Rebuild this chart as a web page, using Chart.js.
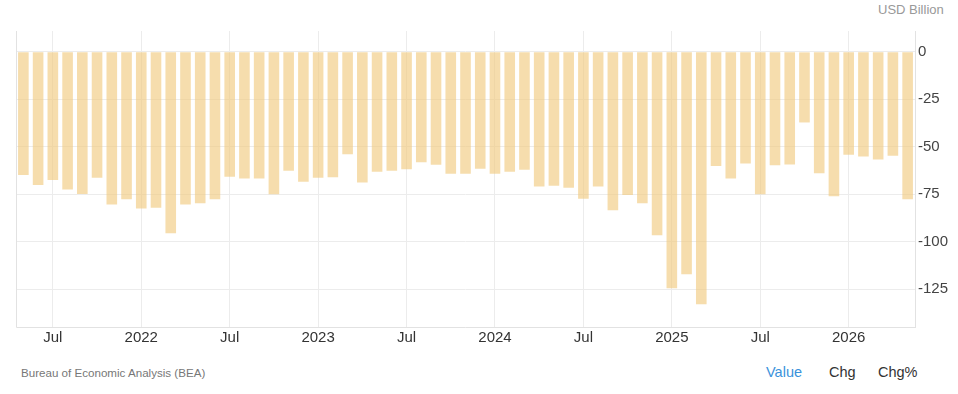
<!DOCTYPE html>
<html>
<head>
<meta charset="utf-8">
<script src="https://cdn.jsdelivr.net/npm/chart.js@4/dist/chart.umd.min.js"></script>
<style>
  body { margin: 0; background: #fff; font-family: Arial, "Liberation Sans", sans-serif; }
  #wrap { position: relative; width: 958px; height: 394px; }
  #chart-box { position: absolute; left: 0; top: 0; width: 958px; height: 350px; }
  .unit { position: absolute; top: 2px; left: 878px; font-size: 13px; color: #999; }
  .src { position: absolute; top: 366px; left: 21px; font-size: 11.6px; color: #777; }
  .tab { position: absolute; top: 364px; font-size: 14.5px; color: #333; }
</style>
</head>
<body>
<div id="wrap">
  <div class="unit">USD Billion</div>
  <div id="chart-box"><canvas id="balance"></canvas></div>
  <div class="src">Bureau of Economic Analysis (BEA)</div>
  <div class="tab" style="left:766px;color:#3a92db;">Value</div>
  <div class="tab" style="left:829px;">Chg</div>
  <div class="tab" style="left:878px;">Chg%</div>
</div>
<script>
// months May 2021 .. May 2026
const months = [
  "2021-05", "2021-06", "2021-07", "2021-08", "2021-09", "2021-10", "2021-11", "2021-12",
  "2022-01", "2022-02", "2022-03", "2022-04", "2022-05", "2022-06", "2022-07", "2022-08", "2022-09", "2022-10", "2022-11", "2022-12",
  "2023-01", "2023-02", "2023-03", "2023-04", "2023-05", "2023-06", "2023-07", "2023-08", "2023-09", "2023-10", "2023-11", "2023-12",
  "2024-01", "2024-02", "2024-03", "2024-04", "2024-05", "2024-06", "2024-07", "2024-08", "2024-09", "2024-10", "2024-11", "2024-12",
  "2025-01", "2025-02", "2025-03", "2025-04", "2025-05", "2025-06", "2025-07", "2025-08", "2025-09", "2025-10", "2025-11", "2025-12",
  "2026-01", "2026-02", "2026-03", "2026-04", "2026-05"
];

const balance = [
  -64.9, -70.2, -67.5, -72.5, -74.9, -66.3, -80.4, -77.7,
  -82.6, -82.1, -95.6, -80.4, -79.8, -77.7, -65.8, -66.8, -66.8, -75.1, -62.6, -68.4,
  -66.3, -66.1, -54.0, -68.9, -63.2, -62.6, -61.9, -58.2, -59.5, -64.2, -64.2, -61.6,
  -64.2, -63.2, -62.1, -70.9, -70.5, -71.6, -77.4, -70.9, -83.5, -75.4, -79.8, -96.7,
  -124.6, -117.2, -133.0, -60.2, -66.7, -58.8, -75.1, -59.8, -59.3, -37.2, -64.0, -76.1,
  -54.2, -55.1, -56.7, -54.7, -77.7
];

const yTicks = [0, -25, -50, -75, -100, -125];

function monthTick(m) {
  const [y, mm] = m.split("-");
  if (mm === "01") return y;
  if (mm === "07") return "Jul";
  return "";
}

const frame = {
  id: "frame",
  beforeDatasetsDraw(chart) {
    const a = chart.chartArea;
    const c = chart.ctx;
    c.save();
    c.strokeStyle = "#e2e2e2";
    c.lineWidth = 1;
    c.beginPath();
    c.moveTo(a.left + 0.5, a.top);
    c.lineTo(a.left + 0.5, a.bottom + 0.5);
    c.lineTo(a.right, a.bottom + 0.5);
    c.stroke();
    c.restore();
  }
};

new Chart(document.getElementById("balance"), {
  type: "bar",
  data: {
    labels: months,
    datasets: [{
      data: balance,
      backgroundColor: "rgba(240, 200, 122, 0.62)",
      borderWidth: 0,
      barPercentage: 0.72,
      categoryPercentage: 1
    }]
  },
  options: {
    responsive: true,
    maintainAspectRatio: false,
    animation: false,
    layout: { padding: { left: 16, top: 31, right: 0, bottom: 0 } },
    plugins: { legend: { display: false }, tooltip: { enabled: false } },
    scales: {
      x: {
        offset: true,
        grid: {
          offset: false,
          drawTicks: false,
          color: ctx => (ctx.tick && monthTick(months[ctx.index]) !== "" ? "#ececec" : "rgba(0,0,0,0)")
        },
        border: { display: false },
        ticks: {
          autoSkip: false,
          maxRotation: 0,
          padding: 2,
          color: "#333",
          font: { family: "Arial, 'Liberation Sans'", size: 15 },
          callback: (v, i) => monthTick(months[i])
        },
        afterFit: s => { s.height = 23; }
      },
      y: {
        position: "right",
        min: -145,
        max: 11,
        afterBuildTicks: s => { s.ticks = yTicks.map(v => ({ value: v })); },
        grid: { color: "#ececec", drawTicks: false },
        border: { display: true, color: "#e2e2e2" },
        ticks: {
          padding: 3,
          color: "#444",
          font: { family: "Arial, 'Liberation Sans'", size: 15 }
        },
        afterFit: s => { s.width = 43; }
      }
    }
  },
  plugins: [frame]
});
</script>
</body>
</html>
